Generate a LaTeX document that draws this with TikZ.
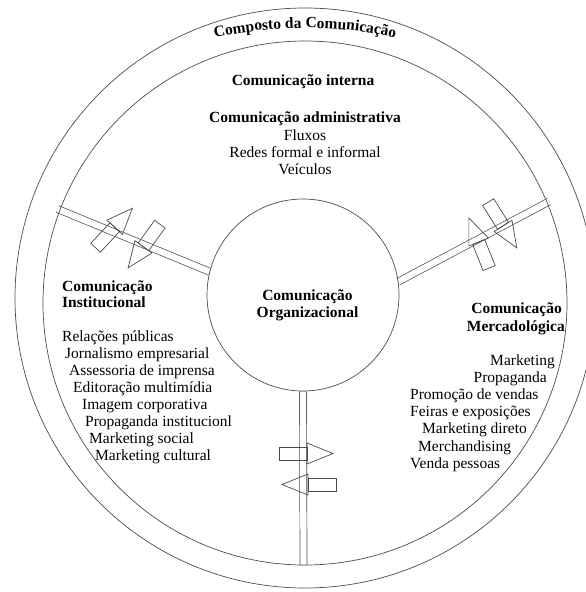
\documentclass[tikz,border=0pt]{standalone}
\usepackage{fontspec}
\setmainfont{Liberation Serif}
\usetikzlibrary{decorations.text,backgrounds}

\tikzset{
  txt/.style={font=\fontsize{15.5}{17}\selectfont, inner sep=0pt},
  head/.style={font=\fontsize{15.5}{17}\selectfont\bfseries, inner sep=0pt},
  ring/.style={draw=black!70, line width=0.7pt},
  spoke/.style={draw=black!70, line width=0.7pt, double=white, double distance=6.3pt},
  blockarrow/.style={draw=black!70, line width=0.7pt},
  flow/.pic={
    \draw[blockarrow] (-27,-6.5) rectangle (1,6.5);
    \draw[blockarrow] (1,-10.5) -- (27,0) -- (1,10.5) -- cycle;
  }
}

\begin{document}
\begin{tikzpicture}[x=1pt, y=-1pt]
\useasboundingbox (0,0) rectangle (586,592);

% ======================
% Outer ring
% ======================
\draw[ring] (305,298) circle[radius=290];
\draw[ring] (305,303) circle[radius=262];

\path[decorate, decoration={text along path, text align=center,
  text={|\fontsize{15.5}{17}\selectfont\bfseries|Composto da Comunicação}}]
  (305,448) ++(250:420) arc[start angle=250, end angle=290, radius=420];

% ======================
% Centre
% ======================
\node[circle, ring, minimum size=192pt, inner sep=0pt] (org) at (303,295) {};
\node[head, anchor=base] (orgA) at (307.5,300) {Comunicação};
\node[head, anchor=base] (orgB) at (307.5,317.5) {Organizacional};

% ======================
% Spokes
% ======================
\coordinate (ringL) at (57.5,209);
\coordinate (ringR) at (549,201.5);
\coordinate (ringB) at (303.5,565);

\begin{scope}[on background layer]
\draw[spoke] (org.166) -- (ringL);
\draw[spoke] (org.8) -- (ringR);
\draw[spoke] (org.south) -- (ringB);
\end{scope}

% two-way flows on each spoke
\pic[rotate=47] at (114,228) {flow};
\pic[rotate=234] at (144,246) {flow};
\pic[rotate=112] at (479,243) {flow};
\pic[rotate=-58] at (502.5,225) {flow};
\pic at (306,453.5) {flow};
\pic[rotate=180] at (309,484.5) {flow};

% ======================
% Comunicação interna
% ======================
\node[head, anchor=base] (intern) at (303,85) {Comunicação interna};
\node[head, anchor=base] (admin) at (305,122) {Comunicação administrativa};
\node[txt, anchor=base] (fluxos) at (305,140) {Fluxos};
\node[txt, anchor=base] (redes) at (305,157) {Redes formal e informal};
\node[txt, anchor=base] (veic) at (305,174) {Veículos};

% ======================
% Comunicação institucional
% ======================
\node[head, anchor=base west] (instA) at (62,291) {Comunicação};
\node[head, anchor=base west] (instB) at (62,307.5) {Institucional};

\node[txt, anchor=base west] (rp) at (62,341) {Relações públicas};
\node[txt, anchor=base west] (jorn) at (65,358) {Jornalismo empresarial};
\node[txt, anchor=base west] (asses) at (69,375) {Assessoria de imprensa};
\node[txt, anchor=base west] (edit) at (73,392) {Editoração multimídia};
\node[txt, anchor=base west] (imag) at (82,409) {Imagem corporativa};
\node[txt, anchor=base west] (propi) at (85,426.5) {Propaganda institucionl};
\node[txt, anchor=base west] (mkts) at (89,443.5) {Marketing social};
\node[txt, anchor=base west] (mktc) at (95,460.5) {Marketing cultural};

% ======================
% Comunicação mercadológica
% ======================
\node[head, anchor=base east] (mercA) at (562,313) {Comunicação};
\node[head, anchor=base east] (mercB) at (565,331) {Mercadológica};

\node[txt, anchor=base east] (mkt) at (555,365) {Marketing};
\node[txt, anchor=base east] (prop) at (547,382) {Propaganda};
\node[txt, anchor=base west] (promo) at (410,399) {Promoção de vendas};
\node[txt, anchor=base west] (feir) at (410,416.5) {Feiras e exposições};
\node[txt, anchor=base west] (mktd) at (422,433.5) {Marketing direto};
\node[txt, anchor=base west] (merch) at (418,451) {Merchandising};
\node[txt, anchor=base west] (venda) at (410,468) {Venda pessoas};

\end{tikzpicture}
\end{document}
